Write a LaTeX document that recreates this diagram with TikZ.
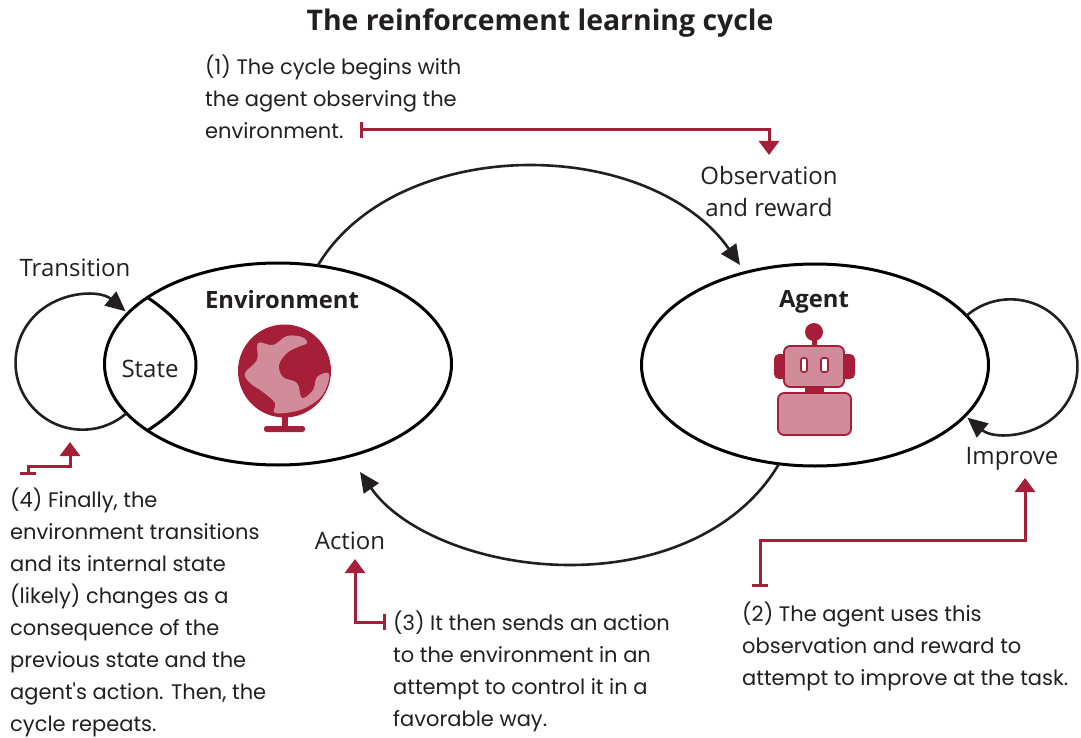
\documentclass[tikz,border=0pt]{standalone}
\usepackage{fontspec}
\setmainfont{Open Sans}
\newfontfamily\notefont{Poppins}
\usetikzlibrary{arrows.meta,shapes.geometric}
\definecolor{cycred}{HTML}{A51F38}
\definecolor{cycpink}{HTML}{D08C9A}
\definecolor{cycink}{HTML}{231F20}
\tikzset{
  realm/.style={draw=black,line width=3pt,ellipse,minimum width=347pt,minimum height=202pt,inner sep=0pt,outer sep=0pt},
  flow/.style={draw=cycink,line width=2.6pt,-{Triangle[length=20pt,width=18pt]}},
  pointer/.style={draw=cycred,line width=3pt,{Bar[width=16pt,line width=3pt]}-{Triangle[length=14pt,width=20pt]}},
  label/.style={text=cycink,font=\fontsize{24}{32}\selectfont,inner sep=0pt,align=center},
  head/.style={text=cycink,font=\fontsize{23.8}{28}\selectfont\bfseries,inner sep=0pt},
  note/.style={anchor=north west,text=cycink,inner sep=0pt,align=left,font=\notefont\fontsize{21}{32}\selectfont},
  part/.style={draw=cycred,line width=1.8pt,fill=cycpink,rounded corners=6pt}
}
\begin{document}
\begin{tikzpicture}[x=1pt,y=-1pt]
  \useasboundingbox[fill=white] (0,0) rectangle (1081,738);
  \node[text=cycink,inner sep=0pt,font=\fontsize{28.4}{32}\selectfont\bfseries] (title) at (540,23) {The reinforcement learning cycle};
  % the two realms
  \node[realm] (env) at (278,364) {};
  \node[realm] (agent) at (815,365) {};
  \node[head] (envname) at (282,300) {Environment};
  \node[head] (agentname) at (814,302) {Agent};
  % state lens
  \coordinate (lensmid) at (196,365);
  \draw[black,line width=3pt] (env.153) .. controls (178,318) and (196,340) .. (lensmid) .. controls (196,390) and (178,411) .. (env.207);
  \node[label] (state) at (150,369) {State};
  % cycle
  \coordinate (peak) at (530,165);
  \coordinate (obsend) at (740,265);
  \coordinate (low) at (570,565);
  \coordinate (actend) at (360,472);
  \draw[draw=cycink,line width=2.6pt] (env.68) .. controls (360,195) and (450,165) .. (peak);
  \draw[flow] (peak) .. controls (620,165) and (695,200) .. (obsend);
  \draw[draw=cycink,line width=2.6pt] (agent.250) .. controls (740,530) and (660,565) .. (low);
  \draw[flow] (low) .. controls (480,565) and (400,530) .. (actend);
  \draw[flow] (env.198) arc[start angle=49,end angle=310,radius=67];
  \draw[flow] (agent.18) arc[start angle=229,end angle=490,radius=67];
  \node[label] (transition) at (75,268) {Transition};
  \node[label] (observation) at (769,191) {Observation\\and reward};
  \node[label] (improve) at (1012,459) {Improve};
  \node[label] (action) at (350,541) {Action};
  % globe
  \fill[cycred] (284.5,371) circle[radius=46.5];
  \fill[cycpink] plot[smooth cycle,tension=0.6] coordinates {(287,336) (302,337) (307,343) (298,347) (287,353) (279,365) (283,377) (297,383) (302,398) (313,390) (317,377) (328,373) (328,383) (320,398) (300,410) (275,413) (275,403) (263,392) (250,383) (245,373) (257,360) (258,343) (273,345)};
  \fill[cycred] (282,414) rectangle (288,428);
  \fill[cycred,rounded corners=2.5pt] (264,426) rectangle (305,432);
  % robot
  \fill[cycred] (814,332) circle[radius=9];
  \fill[cycred] (811.5,338) rectangle (816.5,348);
  \fill[cycred,rounded corners=5pt] (774,354) rectangle (795,379);
  \fill[cycred,rounded corners=5pt] (834,354) rectangle (855,379);
  \fill[cycred] (805,385) rectangle (824,395);
  \draw[part] (784,346) rectangle (844,387);
  \draw[part] (778,393) rectangle (851,435);
  \draw[draw=cycred,line width=1.6pt,fill=white,rounded corners=2pt] (801,358) rectangle (807,372);
  \draw[draw=cycred,line width=1.6pt,fill=white,rounded corners=2pt] (821,358) rectangle (828,372);
  % notes
  \node[note] (note1) at (205,55) {(1) The cycle begins with\\the agent observing the\\environment.};
  \node[note] (note2) at (742,602) {(2) The agent uses this\\observation and reward to\\attempt to improve at the task.};
  \node[note] (note3) at (393,611) {(3) It then sends an action\\to the environment in an\\attempt to control it in a\\favorable way.};
  \node[note] (note4) at (10,488) {(4) Finally, the\\environment transitions\\and its internal state\\(likely) changes as a\\consequence of the\\previous state and the\\agent's action. Then, the\\cycle repeats.};
  % pointers
  \coordinate (bar1) at (360,130);
  \coordinate (tip1) at (769,155);
  \coordinate (bar2) at (760,587);
  \coordinate (tip2) at (1025,478);
  \coordinate (bar3) at (386,622);
  \coordinate (tip3) at (355,559);
  \coordinate (bar4) at (28,475);
  \coordinate (tip4) at (70,442);
  \draw[pointer] (bar1) -| (tip1);
  \draw[pointer] (bar2) |- (1025,540) -- (tip2);
  \draw[pointer] (bar3) -| (tip3);
  \draw[pointer] (bar4) |- (70,466) -- (tip4);
\end{tikzpicture}
\end{document}
